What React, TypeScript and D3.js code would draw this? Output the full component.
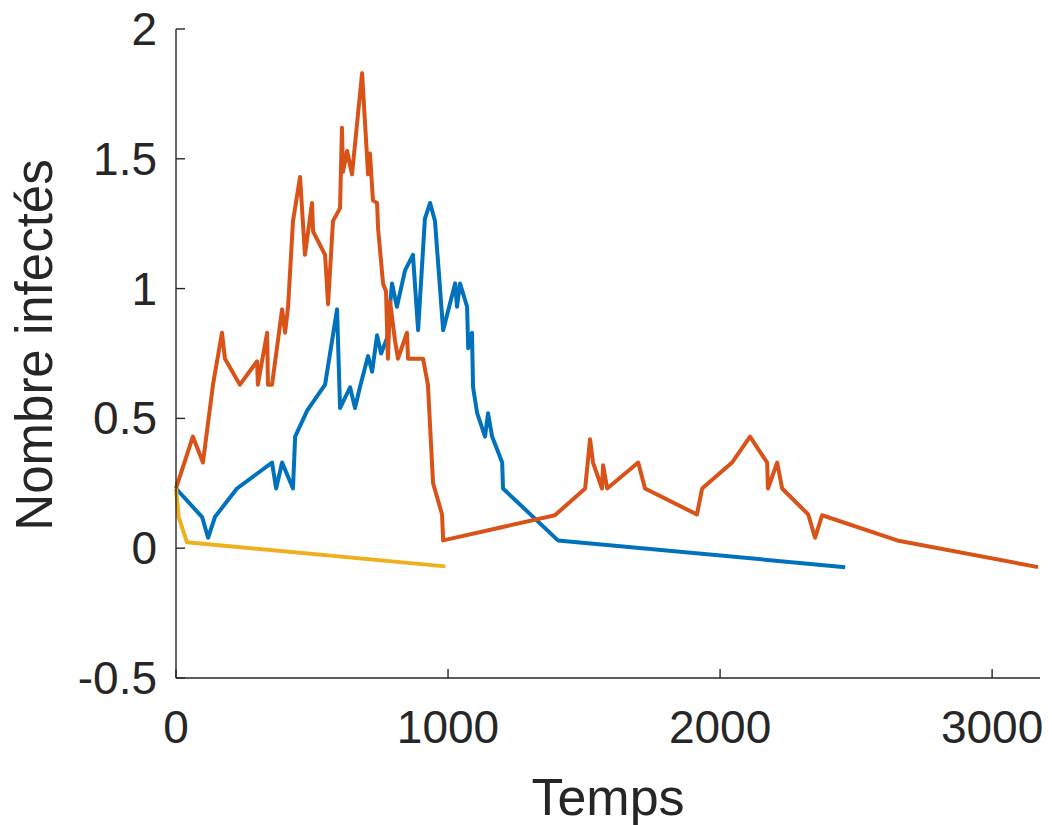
import React from "react";
import * as d3 from "d3";

const yellowT = [0, 10, 40, 990];
const yellowV = [0.23, 0.12, 0.023, -0.07];

const blueT = [0, 96, 118, 143, 224, 353, 368, 390, 430, 438, 482, 548, 592, 603, 640, 658, 676, 706, 721, 739, 754, 776, 794, 812, 842, 871, 890, 915, 934, 952, 982, 1026, 1033, 1044, 1070, 1074, 1088, 1092, 1107, 1136, 1147, 1162, 1199, 1202, 1404, 2460];
const blueV = [0.23, 0.12, 0.04, 0.12, 0.23, 0.33, 0.23, 0.33, 0.23, 0.43, 0.53, 0.63, 0.92, 0.54, 0.62, 0.54, 0.62, 0.74, 0.68, 0.82, 0.75, 0.81, 1.02, 0.93, 1.07, 1.13, 0.84, 1.27, 1.33, 1.26, 0.84, 1.02, 0.93, 1.02, 0.93, 0.77, 0.83, 0.62, 0.52, 0.43, 0.52, 0.43, 0.33, 0.23, 0.03, -0.073];

const orangeT = [0, 62, 99, 136, 169, 180, 235, 298, 301, 316, 335, 338, 353, 390, 401, 412, 430, 456, 474, 500, 504, 548, 559, 577, 603, 610, 614, 629, 647, 684, 706, 713, 724, 739, 743, 761, 772, 779, 787, 805, 816, 849, 853, 908, 926, 945, 978, 982, 1393, 1504, 1522, 1533, 1566, 1570, 1585, 1699, 1724, 1915, 1934, 2044, 2110, 2173, 2176, 2210, 2228, 2324, 2349, 2375, 2651, 3169];
const orangeV = [0.23, 0.43, 0.33, 0.63, 0.83, 0.73, 0.63, 0.72, 0.63, 0.72, 0.83, 0.63, 0.63, 0.92, 0.83, 0.93, 1.26, 1.43, 1.13, 1.33, 1.22, 1.13, 0.94, 1.26, 1.31, 1.62, 1.45, 1.53, 1.44, 1.83, 1.44, 1.52, 1.34, 1.33, 1.23, 1.02, 0.99, 0.73, 0.95, 0.8, 0.73, 0.83, 0.73, 0.73, 0.63, 0.25, 0.13, 0.03, 0.127, 0.23, 0.42, 0.33, 0.23, 0.32, 0.23, 0.33, 0.23, 0.13, 0.23, 0.33, 0.43, 0.33, 0.23, 0.33, 0.23, 0.13, 0.04, 0.127, 0.03, -0.073];

const xTicks = [0, 1000, 2000, 3000];
const yTicks = [-0.5, 0, 0.5, 1, 1.5, 2];
const xLabel = "Temps";
const yLabel = "Nombre infectés";

const W = 1052;
const H = 825;
const left = 176;
const right = 1040;
const top = 29;
const bottom = 678;
const FONT = "'Liberation Sans', Arial, Helvetica, sans-serif";
const AX = "#262626";

export default function App() {
  const x = d3.scaleLinear().domain([0, 3176]).range([left, right]);
  const y = d3.scaleLinear().domain([-0.5, 2]).range([bottom, top]);
  const line = d3
    .line<[number, number]>()
    .x((d) => x(d[0]))
    .y((d) => y(d[1]));
  const series = [
    { t: blueT, v: blueV, c: "#0072BD" },
    { t: orangeT, v: orangeV, c: "#D95319" },
    { t: yellowT, v: yellowV, c: "#EDB120" },
  ];
  return (
    <svg
      width={W}
      height={H}
      style={{ position: "absolute", left: 0, top: 0, background: "#fff" }}
      fontFamily={FONT}
    >
      <rect width={W} height={H} fill="#fff" />
      {series.map((s, i) => (
        <path
          key={i}
          d={line(s.t.map((t, j) => [t, s.v[j]] as [number, number])) || ""}
          fill="none"
          stroke={s.c}
          strokeWidth={4}
          strokeLinejoin="round"
          strokeLinecap="butt"
        />
      ))}
      <line x1={left} x2={left} y1={top} y2={bottom} stroke={AX} strokeWidth={1.4} />
      <line x1={left} x2={right} y1={bottom} y2={bottom} stroke={AX} strokeWidth={1.4} />
      {yTicks.map((t) => (
        <g key={"y" + t}>
          <line x1={left} x2={left + 9} y1={y(t)} y2={y(t)} stroke={AX} strokeWidth={1.4} />
          <text
            x={left - 19}
            y={y(t) + 16}
            textAnchor="end"
            fontSize={46}
            fill={AX}
          >
            {t}
          </text>
        </g>
      ))}
      {xTicks.map((t) => (
        <g key={"x" + t}>
          <line x1={x(t)} x2={x(t)} y1={bottom} y2={bottom - 9} stroke={AX} strokeWidth={1.4} />
          <text x={x(t)} y={743} textAnchor="middle" fontSize={46} fill={AX}>
            {t}
          </text>
        </g>
      ))}
      <text x={(left + right) / 2} y={815} textAnchor="middle" fontSize={52} fill={AX}>
        {xLabel}
      </text>
      <text
        transform={`translate(52, 345) rotate(-90)`}
        textAnchor="middle"
        fontSize={51}
        fill={AX}
      >
        {yLabel}
      </text>
    </svg>
  );
}
